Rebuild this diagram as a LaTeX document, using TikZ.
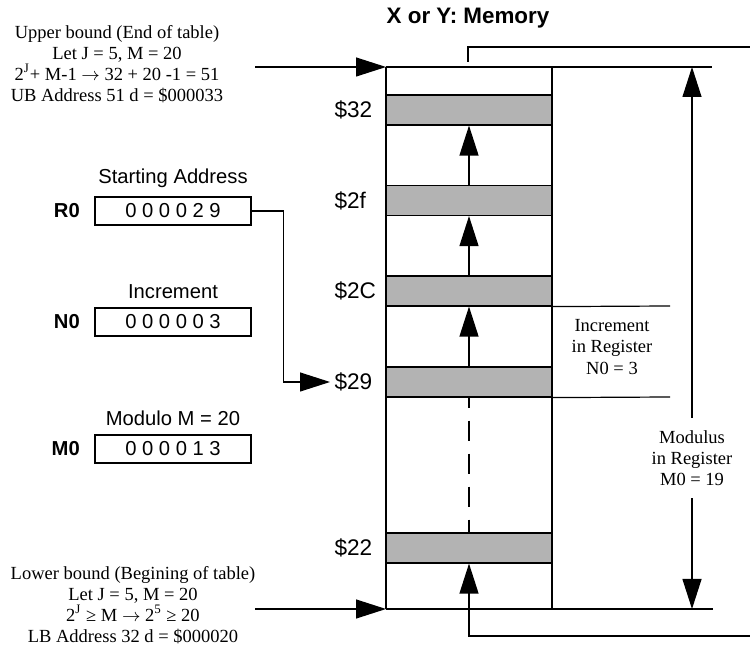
\documentclass[tikz,border=0pt]{standalone}
\usepackage{fontspec}
\setmainfont{Liberation Serif}
\setsansfont{Liberation Sans}
\usepackage{tikz}
\usetikzlibrary{positioning, arrows.meta}
\definecolor{cellGray}{HTML}{B3B3B3}
\newcommand{\sansAt}[1]{\sffamily\fontsize{#1}{#1}\selectfont}

\begin{document}
\begin{tikzpicture}[x=0.5pt, y=-0.5pt, line width=0.6pt,
  tri/.style={-{Triangle[length=15pt, width=9.5pt]}},
  cell/.style={draw, fill=cellGray, minimum width=83pt, minimum height=15pt, inner sep=0pt},
  reg/.style={draw, minimum width=78pt, minimum height=14pt, inner sep=0pt, font=\sansAt{10.1}},
  regname/.style={font=\sansAt{10.1}\bfseries, inner sep=0pt},
  regcap/.style={font=\sansAt{10.1}, inner sep=1pt},
  addr/.style={font=\sansAt{11.3}, anchor=west, inner sep=2pt},
  note/.style={align=center, font=\fontsize{9.25}{10.6}\selectfont, inner sep=0pt}]
\useasboundingbox (0,0) rectangle (750,651);
\node[font=\sansAt{11.2}\bfseries] (title) at (468,18) {X or Y: Memory};
% memory column
\coordinate (ubL) at (255,67); \coordinate (ubR) at (712,67);
\coordinate (lbL) at (255,609); \coordinate (lbR) at (713,609);
\coordinate (colTL) at (386,67); \coordinate (colBL) at (386,609);
\coordinate (colTR) at (552,67); \coordinate (colBR) at (552,609);
\draw (colTL) -- (colBL); \draw (colTR) -- (colBR);
\draw[tri] (ubL) -- (colTL); \draw (colTL) -- (ubR);
\draw[tri] (lbL) -- (colBL); \draw (colBL) -- (lbR);
\node[cell] (c32) at (469,110) {};
\node[cell] (c2f) at (469,200.5) {};
\node[cell] (c2C) at (469,291) {};
\node[cell] (c29) at (469,382) {};
\node[cell] (c22) at (469,548) {};
\node[addr] (l32) at (330,110) {\$32};
\node[addr] (l2f) at (330,200.5) {\$2f};
\node[addr] (l2C) at (330,291) {\$2C};
\node[addr] (l29) at (330,382) {\$29};
\node[addr] (l22) at (330,548) {\$22};
\draw[tri] (c2f.north) -- (c32.south);
\draw[tri] (c2C.north) -- (c2f.south);
\draw[tri] (c29.north) -- (c2C.south);
\draw[dash pattern=on 10pt off 6.5pt, dash phase=5pt] (c29.south) -- (c22.north);
% table bounds
\coordinate (ubOut) at (750,47); \coordinate (ubHook) at (468,62);
\coordinate (lbOut) at (750,636);
\draw (ubHook) |- (ubOut);
\draw[tri] (lbOut) -| (c22.south);
\node[note] (ubtxt) at (117,64) {Upper bound (End of table)\\Let J = 5, M = 20\\2\textsuperscript{J}+ M-1 $\rightarrow$ 32 + 20 -1 = 51\\UB Address 51 d = \$000033};
\node[note] (lbtxt) at (133,605) {Lower bound (Begining of table)\\Let J = 5, M = 20\\2\textsuperscript{J} ≥ M $\rightarrow$ 2\textsuperscript{5} ≥ 20\\LB Address 32 d = \$000020};
% registers
\node[reg] (r0) at (173,211) {0 0 0 0 2 9};
\node[reg] (n0) at (173,322) {0 0 0 0 0 3};
\node[reg] (m0) at (173,449) {0 0 0 0 1 3};
\node[regname, left=7pt of r0] (r0name) {R0};
\node[regname, left=7pt of n0] (n0name) {N0};
\node[regname, left=7pt of m0] (m0name) {M0};
\node[regcap, above=3pt of r0] (r0cap) {Starting Address};
\node[regcap, above=3pt of n0] (n0cap) {Increment};
\node[regcap, above=3pt of m0] (m0cap) {Modulo M = 20};
\draw[tri] (r0.east) -- ++(32,0) |- (l29.west);
% increment and modulus
\coordinate (incTop) at (670,306); \coordinate (incBot) at (670,397);
\draw (c2C.south east) -- (incTop);
\draw (c29.south east) -- (incBot);
\node[note] (inctxt) at (612,347) {Increment\\in Register\\N0 = 3};
\node[note, inner ysep=6pt] (modtxt) at (692,458) {Modulus\\in Register\\M0 = 19};
\coordinate (modTop) at (692,67); \coordinate (modBot) at (692,609);
\draw[tri] (modtxt.north) -- (modTop);
\draw[tri] (modtxt.south) -- (modBot);
\end{tikzpicture}
\end{document}
